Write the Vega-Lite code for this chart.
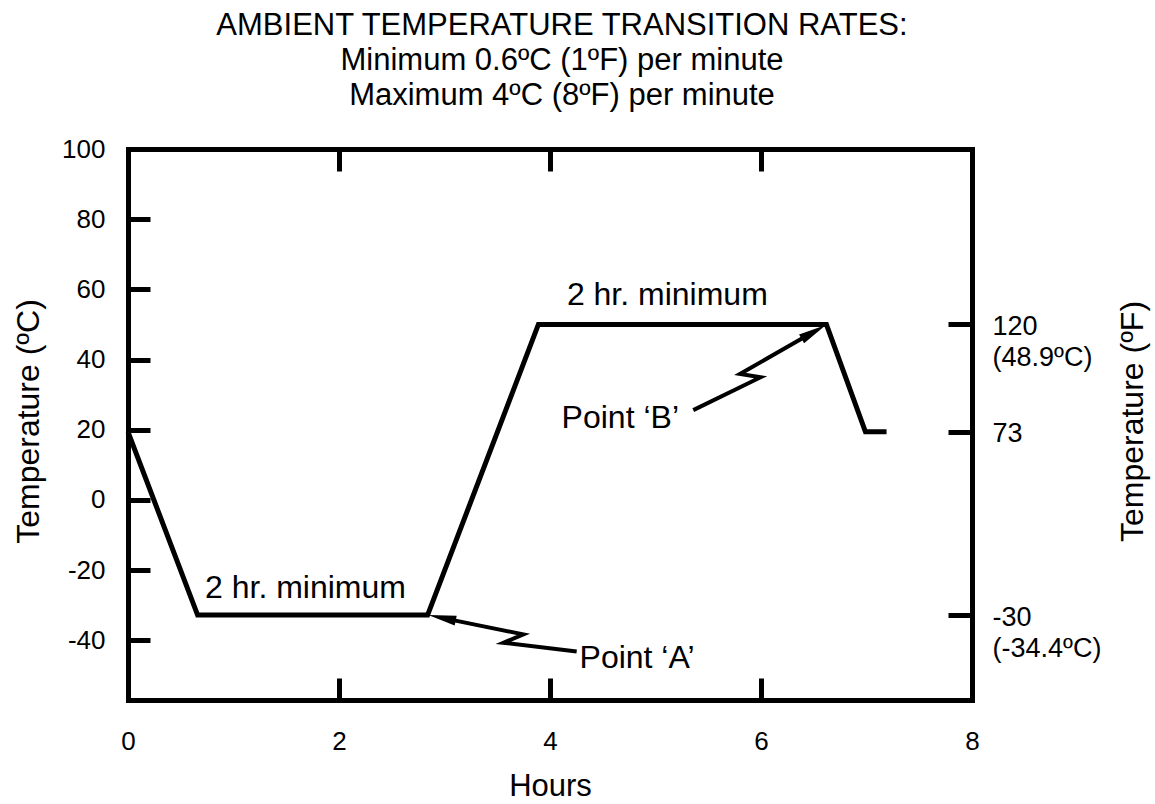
{
  "$schema": "https://vega.github.io/schema/vega-lite/v6.json",
  "autosize": {"type": "none"},
  "padding": {"left": 128, "top": 149, "right": 183, "bottom": 104},
  "width": 844,
  "height": 551,
  "background": "white",
  "config": {"view": {"stroke": null}, "font": "Liberation Sans"},
  "title": {
    "text": ["AMBIENT TEMPERATURE TRANSITION RATES:", "Minimum 0.6ºC (1ºF) per minute", "Maximum 4ºC (8ºF) per minute"],
    "font": "Liberation Sans", "fontSize": 31, "fontWeight": "normal", "lineHeight": 35,
    "anchor": "middle", "baseline": "bottom", "offset": -7, "dx": 12, "color": "black"
  },
  "datasets": {
    "profile": [
      {"seq": 1, "hours": 0, "temp": 19.4},
      {"seq": 2, "hours": 0.66, "temp": -32.8},
      {"seq": 3, "hours": 2.84, "temp": -32.8},
      {"seq": 4, "hours": 3.89, "temp": 50},
      {"seq": 5, "hours": 6.62, "temp": 50},
      {"seq": 6, "hours": 6.99, "temp": 19.4},
      {"seq": 7, "hours": 7.19, "temp": 19.4}
    ],
    "arrows": [
      {"arrow": "A", "seq": 1, "hours": 4.253, "temp": -43.2},
      {"arrow": "A", "seq": 2, "hours": 3.557, "temp": -40.7},
      {"arrow": "A", "seq": 3, "hours": 3.747, "temp": -38.3},
      {"arrow": "A", "seq": 4, "hours": 2.976, "temp": -33.6},
      {"arrow": "B", "seq": 1, "hours": 5.358, "temp": 25.6},
      {"arrow": "B", "seq": 2, "hours": 5.997, "temp": 34.96},
      {"arrow": "B", "seq": 3, "hours": 5.801, "temp": 35.9},
      {"arrow": "B", "seq": 4, "hours": 6.5, "temp": 47.9}
    ],
    "headA": [{"hours": 2.976, "temp": -33.6}],
    "headB": [{"hours": 6.5, "temp": 47.9}],
    "notes": [
      {"label": "2 hr. minimum", "hours": 0.73, "temp": -27.9},
      {"label": "2 hr. minimum", "hours": 4.16, "temp": 55.6},
      {"label": "Point ‘A’", "hours": 4.28, "temp": -47.9},
      {"label": "Point ‘B’", "hours": 4.11, "temp": 20.5}
    ]
  },
  "layer": [
    {
      "data": {"name": "profile"},
      "mark": {"type": "line", "color": "black", "strokeWidth": 5, "strokeJoin": "miter", "strokeCap": "butt"},
      "encoding": {
        "x": {
          "field": "hours", "type": "quantitative",
          "scale": {"domain": [0, 8], "nice": false, "zero": false},
          "axis": {
            "orient": "bottom", "values": [0, 2, 4, 6, 8], "grid": false,
            "domainColor": "black", "domainWidth": 5, "domainCap": "square",
            "tickColor": "black", "tickWidth": 5, "tickSize": -22,
            "labelFont": "Liberation Sans", "labelFontSize": 26, "labelColor": "black",
            "labelPadding": 50, "labelFlush": false, "labelBaseline": "top",
            "title": "Hours", "titleFont": "Liberation Sans", "titleFontSize": 31, "titleFontWeight": "normal",
            "titleColor": "black", "titleX": 422, "titleY": 86, "titleBaseline": "middle", "titleAlign": "center"
          }
        },
        "y": {
          "field": "temp", "type": "quantitative",
          "scale": {"domain": [-57, 100], "nice": false, "zero": false},
          "axis": {
            "orient": "left", "values": [-40, -20, 0, 20, 40, 60, 80, 100], "grid": false,
            "domainColor": "black", "domainWidth": 5, "domainCap": "square",
            "tickColor": "black", "tickWidth": 5, "tickSize": -22,
            "labelFont": "Liberation Sans", "labelFontSize": 26, "labelColor": "black",
            "labelPadding": 45, "labelBaseline": "middle",
            "labelExpr": "'' + datum.value",
            "title": "Temperature (ºC)", "titleFont": "Liberation Sans", "titleFontSize": 32, "titleFontWeight": "normal",
            "titleColor": "black", "titleX": -100, "titleY": 272, "titleAngle": 270, "titleBaseline": "middle", "titleAlign": "center"
          }
        },
        "order": {"field": "seq", "type": "quantitative"}
      }
    },
    {
      "data": {"name": "arrows"},
      "mark": {"type": "line", "color": "black", "strokeWidth": 4, "strokeJoin": "miter", "strokeCap": "butt"},
      "encoding": {
        "x": {
          "field": "hours", "type": "quantitative",
          "scale": {"domain": [0, 8], "nice": false, "zero": false},
          "axis": {
            "orient": "top", "values": [2, 4, 6], "grid": false, "labels": false,
            "domainColor": "black", "domainWidth": 5, "domainCap": "square",
            "tickColor": "black", "tickWidth": 5, "tickSize": -22, "title": null
          }
        },
        "y": {
          "field": "temp", "type": "quantitative",
          "scale": {"domain": [-57, 100], "nice": false, "zero": false},
          "axis": {
            "orient": "right", "values": [-32.8, 19.4, 50], "grid": false,
            "domainColor": "black", "domainWidth": 5, "domainCap": "square",
            "tickColor": "black", "tickWidth": 5, "tickSize": -24,
            "labelFont": "Liberation Sans", "labelFontSize": 27, "labelColor": "black",
            "labelPadding": 44, "labelAlign": "left", "labelBaseline": "alphabetic", "labelOffset": 10,
            "labelLineHeight": 31,
            "labelExpr": "datum.value > 40 ? ['120', '(48.9ºC)'] : datum.value > 0 ? '73' : ['-30', '(-34.4ºC)']",
            "title": "Temperature (ºF)", "titleFont": "Liberation Sans", "titleFontSize": 32, "titleFontWeight": "normal",
            "titleColor": "black", "titleX": 160, "titleY": 272, "titleAngle": 270, "titleBaseline": "middle", "titleAlign": "center"
          }
        },
        "detail": {"field": "arrow", "type": "nominal"},
        "order": {"field": "seq", "type": "quantitative"}
      }
    },
    {
      "data": {"name": "headA"},
      "mark": {"type": "point", "shape": "M1,0L-1,-0.36L-1,0.36Z", "size": 784, "angle": 191.5, "filled": true, "color": "black", "opacity": 1, "strokeWidth": 0},
      "encoding": {
        "x": {"field": "hours", "type": "quantitative", "scale": {"domain": [0, 8], "nice": false, "zero": false}, "axis": null},
        "y": {"field": "temp", "type": "quantitative", "scale": {"domain": [-57, 100], "nice": false, "zero": false}, "axis": null}
      }
    },
    {
      "data": {"name": "headB"},
      "mark": {"type": "point", "shape": "M1,0L-1,-0.36L-1,0.36Z", "size": 784, "angle": 330.3, "filled": true, "color": "black", "opacity": 1, "strokeWidth": 0},
      "encoding": {
        "x": {"field": "hours", "type": "quantitative", "scale": {"domain": [0, 8], "nice": false, "zero": false}, "axis": null},
        "y": {"field": "temp", "type": "quantitative", "scale": {"domain": [-57, 100], "nice": false, "zero": false}, "axis": null}
      }
    },
    {
      "data": {"name": "notes"},
      "mark": {"type": "text", "align": "left", "baseline": "alphabetic", "font": "Liberation Sans", "fontSize": 32, "color": "black"},
      "encoding": {
        "x": {"field": "hours", "type": "quantitative", "scale": {"domain": [0, 8], "nice": false, "zero": false}, "axis": null},
        "y": {"field": "temp", "type": "quantitative", "scale": {"domain": [-57, 100], "nice": false, "zero": false}, "axis": null},
        "text": {"field": "label", "type": "nominal"}
      }
    }
  ],
  "resolve": {"axis": {"x": "independent", "y": "independent"}}
}
